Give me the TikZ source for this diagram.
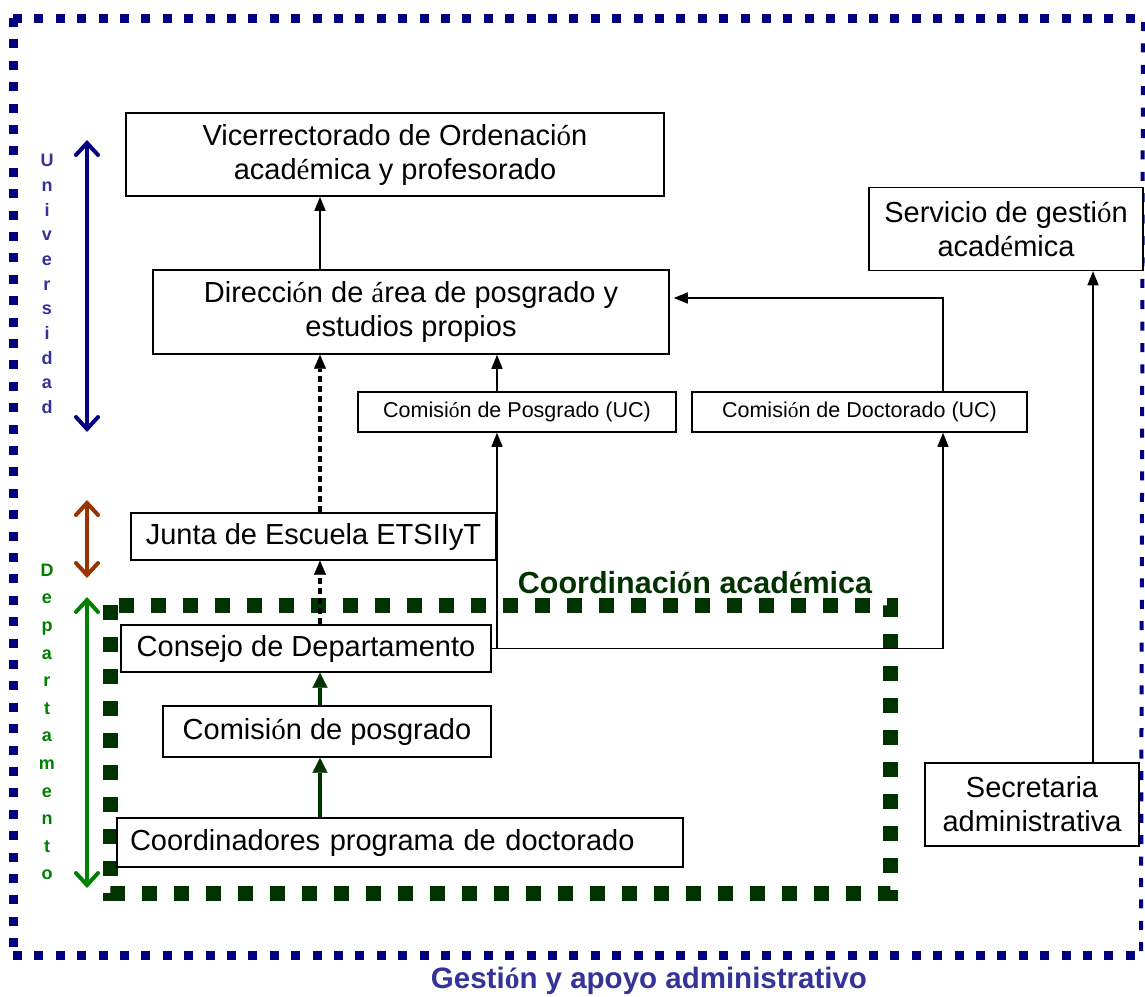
\documentclass[tikz,border=0pt]{standalone}
\usepackage{fontspec}
\setmainfont{Liberation Sans}
\newfontfamily\acc{Liberation Serif}
\usetikzlibrary{arrows.meta}
\definecolor{bordercol}{RGB}{0,0,128}
\definecolor{univcol}{RGB}{51,51,153}
\definecolor{browncol}{RGB}{153,51,0}
\definecolor{greenarr}{RGB}{0,128,0}
\definecolor{darkgreen}{RGB}{0,51,0}
\newcommand\oacc{{\acc ó}}
\newcommand\eacc{{\acc é}}
\newcommand\aacc{{\acc á}}
\newcommand\bigf{\fontsize{29}{34}\selectfont}
\newcommand\smallf{\fontsize{21.5}{26}\selectfont}
\begin{document}
\begin{tikzpicture}[x=1pt,y=-1pt,
  box/.style={draw, line width=1.5pt, fill=white, inner sep=0pt, align=center, font=\bigf},
  sbox/.style={box, font=\smallf},
  arr/.style={line width=1.3pt, -{Triangle[length=14pt,width=11pt]}},
  dotarr/.style={line width=4pt, dash pattern=on 6pt off 4pt, -{Triangle[length=14pt,width=12pt,line width=0.1pt]}},
  grarr/.style={line width=4.5pt, draw=darkgreen, -{Triangle[length=15pt,width=15pt,line width=0.1pt]}, darkgreen},
  dblarr/.style={line width=4pt, {Straight Barb[length=12pt,width=22pt,line cap=round]}-{Straight Barb[length=12pt,width=22pt,line cap=round]}},
  border/.style={draw=bordercol, line width=9pt, dash pattern=on 9pt off 12.4pt},
  greenbox/.style={draw=darkgreen, line width=15pt, dash pattern=on 15pt off 17pt},
  vlabel/.style={font=\fontsize{18}{24.7}\selectfont\bfseries, align=center, inner sep=0pt}
]
\useasboundingbox (0,0) rectangle (1145,996);
\fill[white] (0,0) rectangle (1145,996);

% outer blue border
\coordinate (b1) at (13,18);
\coordinate (b2) at (1143,18);
\coordinate (b3) at (1141,955);
\coordinate (b4) at (13,955);
\draw[border] (b1) -- (b2);
\draw[border] (b1) -- (b4);
\draw[border] (b4) -- (1143,955);
\draw[border, line width=4pt] (b2 |- 0,22) -- (b3);

% green dashed rectangle
\coordinate (g1) at (110,605);
\coordinate (g2) at (890,893);
\draw[greenbox] (g1) rectangle (g2);

% nodes
\node[box, minimum width=538, minimum height=83] (vice) at (395,154.5) {Vicerrectorado de Ordenaci\oacc n\\acad\eacc mica y profesorado};
\node[box, minimum width=516, minimum height=84] (dir) at (411,312) {Direcci\oacc n de \aacc rea de posgrado y\\estudios propios};
\node[box, minimum width=274, minimum height=83] (serv) at (1006,229) {Servicio de gesti\oacc n\\acad\eacc mica};
\node[sbox, minimum width=318, minimum height=40] (cpos) at (517,412) {Comisi\oacc n de Posgrado (UC)};
\node[sbox, minimum width=335, minimum height=40] (cdoc) at (859.5,412) {Comisi\oacc n de Doctorado (UC)};
\node[box, minimum width=365, minimum height=47] (junta) at (313.5,536.5) {Junta de Escuela ETSIIyT};
\node[box, minimum width=370, minimum height=47] (consejo) at (306,648.5) {Consejo de Departamento};
\node[box, minimum width=328, minimum height=51] (comp) at (327,731.5) {Comisi\oacc n de posgrado};
\node[box, minimum width=566, minimum height=49, text width=540, align=left] (coord) at (400,842.5) {Coordinadores programa de doctorado};
\node[box, minimum width=214, minimum height=83] (secr) at (1032,804.5) {Secretaria\\administrativa};

% x positions of connectors
\coordinate (xa) at (320,0);
\coordinate (xb) at (497,0);
\coordinate (xc) at (943,0);
\coordinate (xd) at (1093,0);

% connectors
\draw[arr] (dir.north -| xa) -- (vice.south -| xa);
\draw[dotarr] (junta.north -| xa) -- (dir.south -| xa);
\draw[dotarr] (consejo.north -| xa) -- (junta.south -| xa);
\draw[grarr] (comp.north -| xa) -- (consejo.south -| xa);
\draw[grarr] (coord.north -| xa) -- (comp.south -| xa);
\draw[arr] (cpos.north -| xb) -- (dir.south -| xb);
\draw[arr] (cdoc.north -| xc) |- ([xshift=4pt,yshift=14pt]dir.east);
\draw[arr] (consejo.east) -| (cdoc.south -| xc);
\draw[arr] (consejo.east -| xb) -- (cpos.south -| xb);
\draw[arr] (secr.north -| xd) -- (serv.south -| xd);

% side arrows
\coordinate (u1) at (87,140);
\coordinate (u2) at (87,432);
\coordinate (r1) at (87,500);
\coordinate (r2) at (87,578);
\coordinate (d1) at (87,597);
\coordinate (d2) at (87,888);
\draw[dblarr, bordercol] (u1) -- (u2);
\draw[dblarr, browncol] (r1) -- (r2);
\draw[dblarr, greenarr] (d1) -- (d2);

% labels
\node[vlabel, text=univcol] (univ) at (47,284) {U\\n\\i\\v\\e\\r\\s\\i\\d\\a\\d};
\node[vlabel, text=greenarr, font=\fontsize{18}{27.6}\selectfont\bfseries] (dept) at (47,722) {D\\e\\p\\a\\r\\t\\a\\m\\e\\n\\t\\o};
\node[font=\fontsize{30.5}{34}\selectfont\bfseries, text=darkgreen, inner sep=0pt] (coordlab) at (695,583) {Coordinaci\oacc n acad\eacc mica};
\node[font=\fontsize{29.5}{34}\selectfont\bfseries, text=univcol, inner sep=0pt] (gestlab) at (649,981) {Gesti\oacc n y apoyo administrativo};
\end{tikzpicture}
\end{document}
